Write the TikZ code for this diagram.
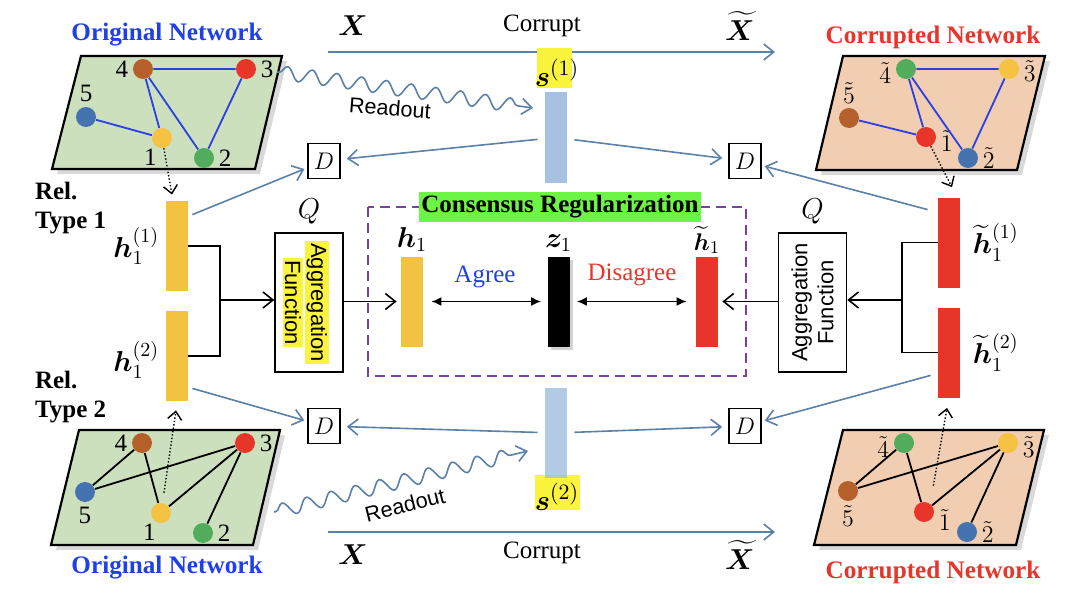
\documentclass[tikz,border=0pt]{standalone}
\usepackage{amsmath,amssymb}
\usepackage{bm}
\usepackage{xcolor}
\usepackage{fontspec}
\setmainfont{Liberation Serif}
\setsansfont{Liberation Sans}
\usepackage{tikz}
\usetikzlibrary{arrows.meta,calc,positioning,shadows,decorations.pathmorphing}

\definecolor{barYellow}{HTML}{F4C242}
\definecolor{barRed}{HTML}{E8352A}
\definecolor{barBlue}{HTML}{A6C1E1}
\definecolor{flowBlue}{HTML}{5B80AA}
\definecolor{edgeBlue}{HTML}{2A40E6}
\definecolor{planeGreen}{HTML}{CDE0BD}
\definecolor{planePeach}{HTML}{F1CDB1}
\definecolor{vBrown}{HTML}{B5602B}
\definecolor{vRed}{HTML}{E8352A}
\definecolor{vBlue}{HTML}{4573B0}
\definecolor{vYellow}{HTML}{F5C242}
\definecolor{vGreen}{HTML}{51AD5C}
\definecolor{titleBlue}{HTML}{1F3FE8}
\definecolor{titleRed}{HTML}{E8352A}
\definecolor{conPurple}{HTML}{7B3FA6}
\definecolor{hlGreen}{HTML}{6CF545}
\definecolor{hlYellow}{HTML}{FBF43C}
\newcommand{\hlword}[1]{{\setlength{\fboxsep}{1pt}\colorbox{hlYellow}{#1}}}

\begin{document}
\begin{tikzpicture}[
    x=0.5pt, y=-0.5pt,
    font=\fontsize{12.5}{15}\selectfont,
    nosep/.style={inner sep=0},
    bar/.style={rectangle, nosep, minimum width=11pt, minimum height=45pt},
    vtx/.style={circle, nosep, minimum size=10pt},
    vlbl/.style={inner sep=1.5pt, label distance=0.5pt},
    plane/.style={draw=black, line width=1.1pt, drop shadow={shadow xshift=2.5pt, shadow yshift=-2.5pt, opacity=0.3}},
    blueedge/.style={draw=edgeBlue, line width=0.9pt},
    blackedge/.style={draw=black, line width=0.9pt},
    flow/.style={draw=flowBlue, line width=0.8pt, -{Straight Barb[length=5pt, width=8pt]}},
    lookup/.style={draw=black, densely dotted, line width=0.7pt, -{Straight Barb[length=4pt, width=7pt]}},
    plain/.style={draw=black, line width=0.8pt},
    openarrow/.style={-{Straight Barb[length=5pt, width=8pt]}},
    twoway/.style={draw=black, line width=0.8pt, {Latex[length=5pt, width=4.5pt]}-{Latex[length=5pt, width=4.5pt]}},
    dbox/.style={draw, line width=0.8pt, minimum width=16pt, minimum height=17.5pt, nosep},
    aggbox/.style={draw, line width=0.8pt, minimum width=34pt, minimum height=69.5pt, nosep},
    aggtext/.style={align=center, font=\sffamily\fontsize{11}{13}\selectfont},
    readout/.style={draw=flowBlue, line width=0.8pt, decorate,
        decoration={snake, amplitude=3.4pt, segment length=12.5pt, pre length=1pt, post length=6pt},
        -{Straight Barb[length=5pt, width=8pt]}},
    title/.style={font=\bfseries\fontsize{12.6}{15}\selectfont},
    rel/.style={align=left, anchor=west, font=\bfseries\fontsize{12.5}{14.5}\selectfont},
    bigmath/.style={font=\fontsize{14}{16}\selectfont}
]
\useasboundingbox (0,0) rectangle (1084,600);

% ---------- networks ----------
\node[title, text=titleBlue] (tOA) at (167,35) {Original Network};
\node[title, text=titleRed]  (tCA) at (933,37) {Corrupted Network};
\node[title, text=titleBlue] (tOB) at (167,568) {Original Network};
\node[title, text=titleRed]  (tCB) at (933,572) {Corrupted Network};

\begin{scope}[shift={(81,56)}]
  \path[plane, fill=planeGreen] (0,0) -- (201,0) -- (174,113) -- (-29,113) -- cycle;
  \node[vtx, fill=vYellow, label={[vlbl, xshift=3pt]below left:1}] (pa1) at (81,82) {};
  \node[vtx, fill=vGreen,  label={[vlbl]right:2}] (pa2) at (123,102) {};
  \node[vtx, fill=vRed,    label={[vlbl]right:3}] (pa3) at (165,13) {};
  \node[vtx, fill=vBrown,  label={[vlbl]left:4}]  (pa4) at (62,13) {};
  \node[vtx, fill=vBlue,   label={[vlbl]above:5}] (pa5) at (5,61) {};
\end{scope}
\path[blueedge] (pa4) -- (pa3) (pa4) -- (pa1) (pa4) -- (pa2) (pa3) -- (pa2) (pa5) -- (pa1);

\begin{scope}[shift={(843,56)}]
  \path[plane, fill=planePeach] (0,0) -- (202,0) -- (174,114) -- (-27,114) -- cycle;
  \node[vtx, fill=vRed,    label={[vlbl, yshift=-2pt]right:$\tilde{1}$}] (pb1) at (83,81) {};
  \node[vtx, fill=vBlue,   label={[vlbl]right:$\tilde{2}$}] (pb2) at (125,102) {};
  \node[vtx, fill=vYellow, label={[vlbl, yshift=-1pt]right:$\tilde{3}$}] (pb3) at (166,13) {};
  \node[vtx, fill=vGreen,  label={[vlbl, yshift=-2pt]left:$\tilde{4}$}]  (pb4) at (63,13) {};
  \node[vtx, fill=vBrown,  label={[vlbl]above:$\tilde{5}$}] (pb5) at (6,62) {};
\end{scope}
\path[blueedge] (pb4) -- (pb3) (pb4) -- (pb1) (pb4) -- (pb2) (pb3) -- (pb2) (pb5) -- (pb1);

\begin{scope}[shift={(79,430)}]
  \path[plane, fill=planeGreen] (0,0) -- (201,0) -- (174,115) -- (-28,115) -- cycle;
  \node[vtx, fill=vYellow, label={[vlbl, xshift=3pt]below left:1}] (qa1) at (82,83) {};
  \node[vtx, fill=vGreen,  label={[vlbl]right:2}] (qa2) at (124,103) {};
  \node[vtx, fill=vRed,    label={[vlbl]right:3}] (qa3) at (166,13) {};
  \node[vtx, fill=vBrown,  label={[vlbl]left:4}]  (qa4) at (63,13) {};
  \node[vtx, fill=vBlue,   label={[vlbl]below:5}] (qa5) at (6,62) {};
\end{scope}
\path[blackedge] (qa5) -- (qa4) (qa5) -- (qa3) (qa4) -- (qa1) (qa1) -- (qa3) (qa3) -- (qa2);

\begin{scope}[shift={(843,430)}]
  \path[plane, fill=planePeach] (0,0) -- (201,0) -- (173,115) -- (-29,115) -- cycle;
  \node[vtx, fill=vRed,    label={[vlbl, yshift=-4pt]right:$\tilde{1}$}] (qb1) at (81,82) {};
  \node[vtx, fill=vBlue,   label={[vlbl]right:$\tilde{2}$}] (qb2) at (124,102) {};
  \node[vtx, fill=vYellow, label={[vlbl, yshift=-2pt]right:$\tilde{3}$}] (qb3) at (165,13) {};
  \node[vtx, fill=vGreen,  label={[vlbl, yshift=-2pt]left:$\tilde{4}$}]  (qb4) at (61,13) {};
  \node[vtx, fill=vBrown,  label={[vlbl]below:$\tilde{5}$}] (qb5) at (5,61) {};
\end{scope}
\path[blackedge] (qb5) -- (qb4) (qb5) -- (qb3) (qb4) -- (qb1) (qb1) -- (qb3) (qb3) -- (qb2);

\node[rel] (relA) at (28,208) {Rel.\\Type 1};
\node[rel] (relB) at (28,397) {Rel.\\Type 2};

% ---------- relation embeddings ----------
\node[bar, fill=barYellow, label={[nosep, bigmath, label distance=3pt]left:$\bm h_1^{(1)}$}] (hA) at (177,246) {};
\node[bar, fill=barYellow, label={[nosep, bigmath, label distance=3pt, yshift=-2pt]left:$\bm h_1^{(2)}$}] (hB) at (177,356) {};
\node[bar, fill=barRed, label={[nosep, bigmath, label distance=6pt]right:$\widetilde{\bm h}_1^{(1)}$}] (hD) at (949,242.5) {};
\node[bar, fill=barRed, label={[nosep, bigmath, label distance=6pt]right:$\widetilde{\bm h}_1^{(2)}$}] (hE) at (949,352.5) {};

\path[lookup] (pa1) -- ($(hA.north)+(-5,-6)$);
\path[lookup, shorten <=5pt] (qa1) -- ($(hB.south)+(-1,9)$);
\path[lookup] (pb1) -- ($(hD.north)+(3,-10)$);
\path[lookup, shorten <=4pt] ($(qb1.north)+(8,-8)$) -- ($(hE.south)+(-2,10)$);

% ---------- aggregation ----------
\node[aggbox, label={[nosep, bigmath, label distance=4pt]above:$Q$}] (aggL) at (309,302.5) {};
\node[aggtext, rotate=-90] (aggLt) at (306,302.5) {\hlword{Aggregation}\\\hlword{Function}};
\node[aggbox, label={[nosep, bigmath, label distance=4pt]above:$Q$}] (aggR) at (812.5,302.5) {};
\node[aggtext, rotate=90] (aggRt) at (812.5,302.5) {Aggregation\\Function};

\coordinate (brL) at (220,300);
\coordinate (brR) at (902,300);
\path[plain] (hA.east) -| (brL) |- (hB.east);
\path[plain] (hD.west) -| (brR) |- (hE.west);
\path[plain, openarrow] (brL) -- (aggL.west |- brL);
\path[plain, openarrow] (brR) -- (aggR.east |- brR);

% ---------- consensus regularization ----------
\draw[draw=conPurple, line width=1.3pt, dash pattern=on 5pt off 3pt] (368,207) rectangle (746,376);
\node[fill=hlGreen, inner xsep=1pt, inner ysep=2pt, font=\bfseries\fontsize{12.5}{15}\selectfont] (conT) at (560,207) {Consensus Regularization};

\node[bar, fill=barYellow, label={[nosep, bigmath, label distance=2pt]above:$\bm h_1$}] (hC) at (412,301.5) {};
\node[bar, fill=black, drop shadow={shadow xshift=1.5pt, shadow yshift=-1.5pt, opacity=0.35}, label={[nosep, bigmath, label distance=2pt]above:$\bm z_1$}] (zC) at (558.5,301.5) {};
\node[bar, fill=barRed, label={[nosep, label distance=1pt]above:$\widetilde{\bm h}_1$}] (hT) at (707,301.5) {};

\path[plain, openarrow, shorten >=2pt] (aggL.east |- hC) -- (hC.west);
\path[plain, openarrow, shorten >=2pt] (aggR.west |- hT) -- (hT.east);
\path[twoway, shorten <=4pt, shorten >=3pt] (hC) -- (zC);
\path[twoway, shorten <=3.5pt, shorten >=4.5pt] (zC) -- (hT);
\node[text=titleBlue] (agr) at (485,277) {Agree};
\node[text=titleRed] (dis) at (632,275) {Disagree};

% ---------- summaries and discriminators ----------
\coordinate (xa) at (328,52);
\coordinate (xb) at (775,52);
\coordinate (xc) at (328,532);
\coordinate (xd) at (775,532);
\path[flow] (xa) -- (xb);
\path[flow] (xc) -- (xd);
\node[bigmath] (xlA) at (353,26) {$\bm X$};
\node (crA) at (542,26) {Corrupt};
\node[bigmath] (xtA) at (740,26) {$\widetilde{\bm X}$};
\node[bigmath] (xlB) at (353,555) {$\bm X$};
\node (crB) at (542,553) {Corrupt};
\node[bigmath] (xtB) at (740,555) {$\widetilde{\bm X}$};

\fill[hlYellow] (537,48) rectangle (572,88);
\node[font=\fontsize{15}{18}\selectfont] (sAl) at (557,73) {$\bm s^{(1)}$};
\fill[hlYellow] (535,475) rectangle (580,510);
\node[font=\fontsize{15}{18}\selectfont] (sBl) at (557,497) {$\bm s^{(2)}$};

\node[bar, fill=barBlue, minimum height=45.5pt] (sA) at (556,137.5) {};
\node[bar, fill=barBlue, fill opacity=0.85] (sB) at (556,433) {};

\coordinate (raA) at (277,72);
\coordinate (raB) at (533,108);
\coordinate (rbA) at (274,512);
\coordinate (rbB) at (528,451);
\path[readout] (raA) -- (raB);
\path[readout] (rbA) -- (rbB);
\node[font=\sffamily\fontsize{10.8}{13}\selectfont, rotate=-4.5] (rdA) at (390,108) {Readout};
\node[font=\sffamily\fontsize{10.8}{13}\selectfont, rotate=14] (rdB) at (405,505) {Readout};

\node[dbox] (DA) at (324,161) {$D$};
\node[dbox] (DB) at (745,161) {$D$};
\node[dbox] (DC) at (324,426) {$D$};
\node[dbox] (DD) at (745,426) {$D$};

\path[flow, shorten <=3.5pt, shorten >=3pt] (sA) -- (DA);
\path[flow, shorten <=3.5pt, shorten >=3pt] (sA) -- (DB);
\path[flow, shorten <=3.5pt, shorten >=3pt] (sB) -- (DC);
\path[flow, shorten <=3.5pt, shorten >=3pt] (sB) -- (DD);
\path[flow, shorten >=1.5pt] ($(hA.north east)+(4,14)$) -- (DA);
\path[flow, shorten >=1.5pt] ($(hB.south east)+(4,-13)$) -- (DC);
\path[flow, shorten >=1.5pt] ($(hD.north west)+(-10,12.5)$) -- (DB);
\path[flow, shorten >=1.5pt] ($(hE.south west)+(-7,-22.5)$) -- (DD);

\end{tikzpicture}
\end{document}
